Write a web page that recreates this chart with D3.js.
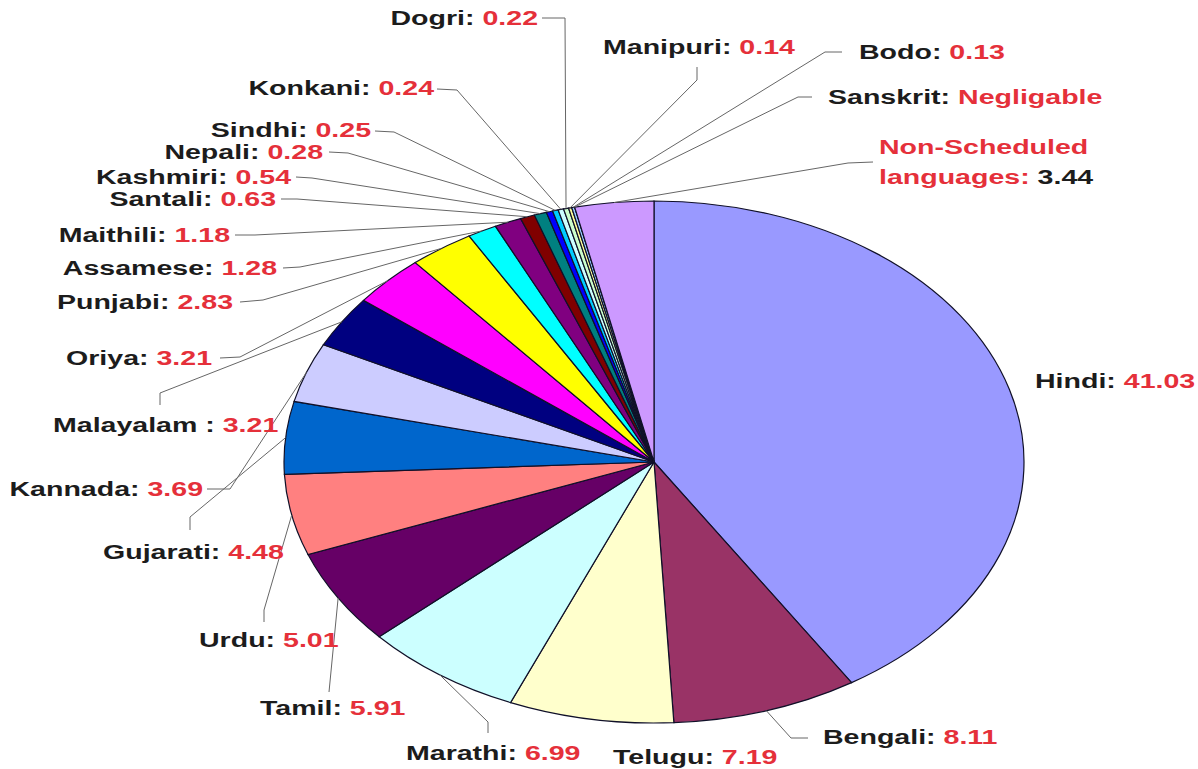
<!DOCTYPE html>
<html>
<head>
<meta charset="utf-8">
<script src="https://cdn.jsdelivr.net/npm/d3@7"></script>
<style>
  body { margin: 0; background: #fff; }
  text { font-family: "Liberation Sans", Arial, sans-serif; font-weight: bold; font-size: 21px; }
</style>
</head>
<body>
<svg id="chart" width="1198" height="769"></svg>
<script>
// share of speakers (%), clockwise from 12 o'clock
var languages = ["Hindi", "Bengali", "Telugu", "Marathi", "Tamil", "Urdu", "Gujarati", "Kannada",
	"Malayalam", "Oriya", "Punjabi", "Assamese", "Maithili", "Santali", "Kashmiri", "Nepali",
	"Sindhi", "Konkani", "Dogri", "Manipuri", "Bodo", "Sanskrit", "Non-Scheduled languages"];
var shares = [41.03, 8.11, 7.19, 6.99, 5.91, 5.01, 4.48, 3.69,
	3.21, 3.21, 2.83, 1.28, 1.18, 0.63, 0.54, 0.28,
	0.25, 0.24, 0.22, 0.14, 0.13, 0, 3.44];
var sliceColors = ["#9999FF", "#993366", "#FFFFCC", "#CCFFFF", "#660066", "#FF8080", "#0066CC", "#CCCCFF",
	"#000080", "#FF00FF", "#FFFF00", "#00FFFF", "#800080", "#800000", "#008080", "#0000FF",
	"#00CCFF", "#CCFFFF", "#CCFFCC", "#FFFF99", "#99CCFF", "#FF99CC", "#CC99FF"];

// label layout: [x, y, anchor, leader points before the slice edge]
var labelLayout = [
	[1035, 381, "start", null],
	[823, 737, "start", [[808, 738], [791, 738]]],
	[613, 757, "start", null],
	[406, 753, "start", [[488, 733], [488, 722]]],
	[260, 708, "start", [[329, 692]]],
	[199, 640, "start", [[264, 622], [264, 610]]],
	[103, 552, "start", [[190, 530], [190, 517]]],
	[203, 489, "end", [[207, 489], [230, 489]]],
	[53, 425, "start", [[160, 405], [160, 393]]],
	[212, 358, "end", [[220, 358], [240, 357]]],
	[233, 302, "end", [[240, 302], [263, 300]]],
	[277, 268, "end", [[283, 268], [300, 267]]],
	[230, 235, "end", [[235, 235], [255, 235]]],
	[276, 199, "end", [[281, 199], [297, 199]]],
	[291, 177, "end", [[296, 177], [312, 178]]],
	[323, 152, "end", [[329, 152], [348, 153]]],
	[371, 130, "end", [[375, 131], [394, 132]]],
	[434, 88, "end", [[437, 89], [457, 90]]],
	[538, 18, "end", [[542, 18], [565, 18]]],
	[603, 47, "start", [[697, 67], [697, 80]]],
	[859, 52, "start", [[842, 52], [825, 52]]],
	[828, 97, "start", [[812, 97], [798, 97]]],
	[879, 147, "start", [[873, 162], [848, 163]]]
];

var cx = 654, cy = 462, rx = 370, ry = 261;
var stretch = 1.36;   // text in the source is drawn wide

var svg = d3.select("#chart");

var rows = languages.map(function(name, i) {
	return {name: name, value: shares[i], color: sliceColors[i], layout: labelLayout[i]};
});

var pie = d3.pie().sort(null).value(function(d) { return d.value; });
var arcs = pie(rows);

var arc = d3.arc().innerRadius(0).outerRadius(ry);

var pieG = svg.append("g")
	.attr("transform", "translate(" + cx + "," + cy + ") scale(" + (rx / ry) + ",1)");

pieG.selectAll("path")
	.data(arcs)
	.enter().append("path")
	.attr("d", arc)
	.attr("fill", function(d) { return d.data.color; })
	.attr("stroke", "#101028")
	.attr("stroke-width", 1.2)
	.attr("vector-effect", "non-scaling-stroke");

function edgePoint(d) {
	var a = (d.startAngle + d.endAngle) / 2;
	return [cx + rx * Math.sin(a), cy - ry * Math.cos(a)];
}

// leader lines
var line = d3.line();
svg.append("g").selectAll("path")
	.data(arcs.filter(function(d) { return d.data.layout[3]; }))
	.enter().append("path")
	.attr("d", function(d) { return line(d.data.layout[3].concat([edgePoint(d)])); })
	.attr("fill", "none")
	.attr("stroke", "#666")
	.attr("stroke-width", 1);

// labels
var dark = "#1c1c1c", red = "#e5303a";
var labels = svg.append("g");
arcs.forEach(function(d) {
	var L = d.data.layout;
	var t = labels.append("text")
		.attr("transform", "translate(" + L[0] + "," + L[1] + ") scale(" + stretch + ",1)")
		.attr("text-anchor", L[2])
		.attr("dy", "0.35em");
	var valText = d.data.value === 0 ? "Negligable" : d.data.value.toFixed(2);
	if (d.data.name === "Non-Scheduled languages") {
		t.append("tspan").attr("fill", red).text("Non-Scheduled");
		var t2 = labels.append("text")
			.attr("transform", "translate(" + L[0] + "," + (L[1] + 30) + ") scale(" + stretch + ",1)")
			.attr("text-anchor", L[2])
			.attr("dy", "0.35em");
		t2.append("tspan").attr("fill", red).text("languages: ");
		t2.append("tspan").attr("fill", dark).text(valText);
	} else {
		// the source writes "Malayalam : 3.21" with a space before the colon
		var sep = d.data.name === "Malayalam" ? " : " : ": ";
		t.append("tspan").attr("fill", dark).text(d.data.name + sep);
		t.append("tspan").attr("fill", red).text(valText);
	}
});
</script>
</body>
</html>
